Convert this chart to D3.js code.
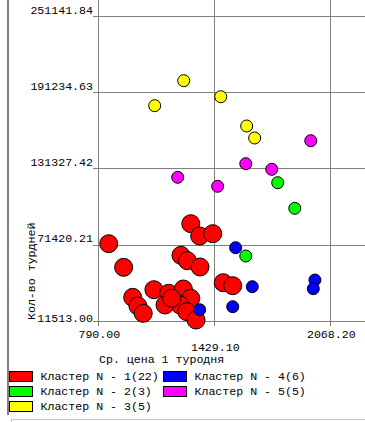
<!DOCTYPE html>
<html>
<head>
<meta charset="utf-8">
<script src="https://cdn.jsdelivr.net/npm/d3@7"></script>
<style>
  body { margin: 0; background: #fff; }
  text { font-family: "Liberation Mono", "Courier New", monospace; font-size: 11.6px; fill: #000; }
</style>
</head>
<body>
<svg width="365" height="422"></svg>
<script>
// tick values of both axes
const xTicks = [790.00, 1429.10, 2068.20];
const yTicks = [11513.00, 71420.21, 131327.42, 191234.63, 251141.84];

// clusters: name and colour
const clusters = ["Кластер N - 1(22)", "Кластер N - 2(3)", "Кластер N - 3(5)", "Кластер N - 4(6)", "Кластер N - 5(5)"];
const colors = ["#ff0000", "#00ff00", "#ffff00", "#0000ff", "#ff00ff"];

// points per cluster: [price, days]
const cluster1 = [
  [1294, 87959], [1343, 78295], [1415, 80102], [842, 72245], [924, 53703],
  [1240, 63132], [1275, 58889], [1345, 53939], [1473, 41604], [1525, 39247],
  [974, 30133], [1091, 36104], [1172, 33276], [1253, 36654], [1294, 29348],
  [1003, 23298], [1235, 24084], [1032, 17563], [1152, 24084], [1189, 29348],
  [1272, 18820], [1323, 12299]
];
const cluster2 = [[1773, 120171], [1867, 100058], [1597, 62582]];
const cluster3 = [[1255, 200310], [1095, 180668], [1459, 187739], [1602, 164719], [1646, 155291]];
const cluster4 = [[1541, 69103], [1633, 38461], [1978, 43725], [1969, 36890], [1525, 22748], [1343, 20391]];
const cluster5 = [[1955, 153169], [1597, 135099], [1740, 130699], [1222, 124414], [1442, 117343]];

const svg = d3.select("svg");

const x = d3.scaleLinear().domain([790, 2068.2]).range([99.3, 331.3]);
const y = d3.scaleLinear().domain([11513, 251141.84]).range([321, 16]);

// window frame lines
svg.append("line").attr("x1", 8).attr("x2", 8).attr("y1", 0).attr("y2", 415)
  .attr("stroke", "#85817a").attr("stroke-width", 2);
svg.append("line").attr("x1", 11).attr("x2", 365).attr("y1", 419.5).attr("y2", 419.5)
  .attr("stroke", "#c8c8c8");
svg.append("line").attr("x1", 11.5).attr("x2", 11.5).attr("y1", 419.5).attr("y2", 422)
  .attr("stroke", "#c8c8c8");

// grid lines and ticks
svg.append("g").selectAll("line").data(yTicks).join("line")
  .attr("x1", 93).attr("x2", 365)
  .attr("y1", d => Math.round(y(d)) + 0.5).attr("y2", d => Math.round(y(d)) + 0.5)
  .attr("stroke", "#808080");
svg.append("g").selectAll("line").data(xTicks).join("line")
  .attr("x1", d => Math.round(x(d)) - 0.5).attr("x2", d => Math.round(x(d)) - 0.5)
  .attr("y1", 0).attr("y2", 326)
  .attr("stroke", "#808080");

// tick labels
svg.append("g").selectAll("text").data(yTicks).join("text")
  .attr("x", 93).attr("text-anchor", "end")
  .attr("y", (d, i) => i === 0 ? y(d) + 1 : y(d) - 2.5)
  .text(d => d.toFixed(2));
svg.append("g").selectAll("text").data(xTicks).join("text")
  .attr("x", d => x(d)).attr("text-anchor", "middle")
  .attr("y", (d, i) => i === 1 ? 350.8 : 337.5)
  .text(d => d.toFixed(2));

// axis titles
svg.append("text").attr("x", 99).attr("y", 362.5).text("Ср. цена 1 туродня");
svg.append("text").attr("transform", "translate(35,320) rotate(-90)").text("Кол-во турдней");

// points
const series = [cluster1, cluster2, cluster3, cluster4, cluster5];
series.forEach((pts, k) => {
  svg.append("g").selectAll("circle").data(pts).join("circle")
    .attr("cx", d => x(d[0]))
    .attr("cy", d => y(d[1]))
    .attr("r", k === 0 ? 9 : 6)
    .attr("fill", colors[k])
    .attr("stroke", "#000");
});

// legend, 3 rows, column-major
const legend = svg.append("g").selectAll("g").data(clusters).join("g")
  .attr("transform", (d, i) => `translate(${i < 3 ? 9.5 : 163.5},${371.5 + (i % 3) * 15})`);
legend.append("rect").attr("width", 23).attr("height", 10)
  .attr("fill", (d, i) => colors[i]).attr("stroke", "#000");
legend.append("text").attr("x", 31).attr("y", 8.5).text(d => d);
</script>
</body>
</html>
